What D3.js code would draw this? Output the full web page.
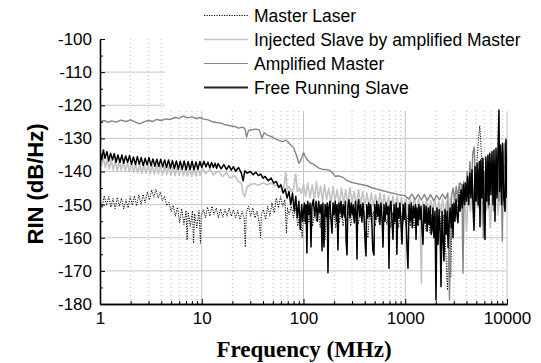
<!DOCTYPE html>
<html><head><meta charset="utf-8">
<script src="https://cdn.jsdelivr.net/npm/d3@7"></script>
<style>
html,body{margin:0;padding:0;background:#fff;}
svg{display:block;}
text{font-family:Arial,"Liberation Sans",Helvetica,sans-serif;}
</style></head>
<body><svg id="c" width="541" height="363"></svg>
<script>
const seriesNames = ["Master Laser","Injected Slave by amplified Master","Amplified Master","Free Running Slave"];
const yMajor = [-100,-110,-120,-130,-140,-150,-160,-170,-180];
const yMinor = [-105,-115,-125,-135,-145,-155,-165,-175];
const yGrid = [-110,-120,-130,-140,-150,-160,-170];
const xMajor = [1,10,100,1000,10000];
const xMinor = [2,3,4,5,6,7,8,9,20,30,40,50,60,70,80,90,200,300,400,500,600,700,800,900,2000,3000,4000,5000,6000,7000,8000,9000];
const xLabels = ["1","10","100","1000","10000"];

const masterLaser = [[1,-148.2],[1.05,-151.0],[1.1,-147.3],[1.16,-150.2],[1.22,-147.6],[1.28,-150.8],[1.34,-148.2],[1.41,-151.2],[1.48,-147.8],[1.55,-150.5],[1.63,-148.0],[1.71,-151.3],[1.8,-148.5],[1.89,-151.0],[1.98,-147.6],[2.08,-150.2],[2.18,-147.3],[2.29,-150.4],[2.41,-147.0],[2.53,-150.0],[2.65,-146.9],[2.78,-149.4],[2.92,-146.2],[3.07,-148.6],[3.22,-145.5],[3.38,-147.8],[3.55,-145.4],[3.73,-148.0],[3.91,-146.2],[4.11,-148.8],[4.31,-147.5],[4.53,-150.3],[4.75,-149.3],[4.99,-152.0],[5.24,-150.2],[5.5,-153.5],[5.77,-150.8],[6.06,-155.5],[6.36,-151.2],[6.68,-156],[7.01,-151.8],[7.18,-160.7],[7.36,-152.3],[7.73,-156.5],[8.12,-151.8],[8.3,-161.7],[8.52,-152.8],[8.95,-157],[9.4,-151.8],[9.7,-161.7],[9.87,-153.5],[10.4,-151.5],[10.9,-154],[11.4,-150.7],[12,-153.5],[12.6,-150.5],[13.2,-153],[13.9,-151],[14.6,-154],[15.3,-151.3],[16.1,-153.8],[16.9,-151.5],[17.7,-153.5],[18.6,-151],[19.5,-153.5],[20.5,-151.5],[21.5,-154],[22.6,-151.8],[23.7,-154.5],[24.9,-152],[26.1,-154],[26.8,-162.8],[27.4,-152.5],[28.8,-150.5],[30.2,-153.5],[31.7,-151],[33.3,-154],[35,-152],[36.7,-155.5],[37.9,-160],[38.5,-153],[40.4,-151.5],[42.4,-154.5],[44.5,-150.5],[46.7,-153.5],[49,-149.5],[51.5,-152.5],[54,-148],[56.7,-151],[59.5,-147.6],[62.5,-150.5],[65.6,-148.5],[68,-158.6],[69.5,-151],[72.3,-153],[75.9,-150.5],[79.7,-154],[83.7,-151],[87.9,-156.5],[92.3,-152],[96.9,-160],[100,-153],[104,-156],[108,-152],[113,-155.5],[118,-151.5],[123,-156.5],[128,-152.5],[134,-155],[140,-151.5],[146,-157],[152,-152],[157,-155.5],[162.6,-160.7],[168,-153],[175,-156],[182,-151.6],[190,-155.5],[198,-152],[207,-157],[216,-152.5],[225,-155.5],[235,-151.8],[245,-156.5],[256,-152.5],[267,-155],[279,-152],[291,-156.5],[304,-152.5],[317,-155.5],[331,-151.8],[345,-156],[360,-152.5],[376,-155.5],[392,-152],[410,-156.5],[430,-160],[445,-152.5],[465,-155.5],[485,-152],[507,-156.5],[530,-152.5],[553,-155.5],[578,-152],[604,-157],[631,-152.5],[660,-156],[690,-152],[720,-157],[752,-152.5],[786,-156],[822,-152.5],[860,-157],[900,-152],[940,-156.5],[980,-152.5],[1025,-157],[1070,-152.5],[1120,-156.5],[1170,-152.5],[1220,-157],[1280,-152.5],[1340,-156.5],[1400,-152.5],[1460,-157.5],[1530,-153],[1600,-158],[1670,-153],[1750,-158.5],[1830,-153],[1910,-159],[2000,-153.5],[2090,-160],[2190,-153.5],[2290,-162],[2400,-153],[2510,-165],[2600,-175.8],[2700,-155],[2800,-172],[2900,-151],[3030,-155],[3170,-148],[3300,-152],[3440,-144.6],[3600,-150],[3760,-143],[3930,-148],[4100,-141],[4300,-147],[4500,-142],[4650,-150],[4850,-140],[5050,-138],[5250,-130],[5400,-126.2],[5550,-132],[5700,-141],[5900,-145],[6100,-148.6],[6350,-140],[6600,-137],[6850,-146],[7100,-140],[7400,-147],[7700,-139],[8000,-136],[8300,-145],[8600,-140],[8900,-134],[9200,-143],[9500,-138],[9800,-144],[10000,-134]];

const injectedSlave = [[1,-135.6],[1.04,-138.2],[1.08,-135.8],[1.13,-138.8],[1.18,-136.2],[1.23,-139.2],[1.29,-136.6],[1.35,-139.5],[1.41,-136.8],[1.48,-139.8],[1.55,-137.0],[1.62,-139.6],[1.7,-136.9],[1.78,-140.0],[1.86,-137.2],[1.95,-140.1],[2.04,-137.5],[2.14,-140.3],[2.24,-137.6],[2.35,-140.4],[2.46,-137.8],[2.58,-140.6],[2.7,-137.9],[2.83,-140.5],[2.97,-138.0],[3.11,-140.7],[3.26,-138.1],[3.42,-140.8],[3.58,-138.2],[3.75,-140.7],[3.93,-138.3],[4.12,-141.0],[4.32,-138.3],[4.53,-140.9],[4.75,-138.4],[4.98,-141.1],[5.22,-138.5],[5.47,-141.2],[5.73,-138.6],[6.01,-141.2],[6.3,-138.6],[6.6,-141.3],[6.92,-138.7],[7.25,-141.4],[7.6,-138.8],[7.97,-141.5],[8.35,-138.9],[8.75,-141.4],[9.17,-138.8],[9.61,-141.2],[10.1,-139.0],[11,-140.6],[12,-139.3],[13,-141.0],[14.5,-139.8],[16,-141.5],[17.5,-140.3],[19,-142.0],[21,-141.3],[23,-143.0],[24.5,-143.5],[25.5,-146.6],[26.5,-147.6],[28,-144.6],[30,-144],[33,-143.6],[36,-144.2],[40,-143.4],[44,-144],[48,-143.5],[52,-144.3],[56,-144],[60,-144.8],[64,-145],[67,-140],[69,-145.5],[72,-144.5],[76,-146],[80,-145.2],[84,-140.8],[87,-146],[91,-145],[95,-146.6],[100,-144],[105,-147.5],[110,-143.5],[116,-148],[122,-144],[128,-148.5],[134,-143],[140,-148],[147,-144.5],[154,-149],[161,-144],[169,-148.5],[177,-145],[186,-149.5],[195,-144.5],[204,-149],[214,-145.5],[225,-150],[236,-145],[248,-149.5],[260,-145.5],[273,-150],[286,-145],[300,-149.5],[315,-146],[331,-150.5],[347,-145.5],[364,-150],[382,-146],[401,-150.5],[421,-146.5],[442,-151],[464,-146.5],[487,-150.5],[511,-147],[537,-151],[564,-146.5],[592,-151.5],[621,-147],[652,-151],[685,-147.5],[719,-152],[755,-147.5],[793,-151.5],[832,-147.5],[874,-152],[917,-147.8],[963,-151.5],[1011,-147.8],[1062,-152],[1115,-148],[1170,-151.5],[1229,-148],[1290,-152],[1355,-148.2],[1400,-152.5],[1440,-173.7],[1480,-149],[1550,-152],[1620,-148.5],[1700,-152.5],[1780,-148.8],[1860,-152],[1950,-148.5],[2040,-153],[2130,-149],[2230,-152.5],[2330,-148.5],[2440,-153],[2550,-149],[2670,-155],[2790,-148],[2920,-152],[3050,-147],[3190,-151],[3340,-145],[3490,-143.5],[3650,-149],[3820,-145],[4000,-158],[4180,-146],[4370,-152],[4570,-145],[4780,-155],[5000,-146],[5230,-151],[5470,-144.5],[5720,-156],[5980,-147],[6250,-152],[6540,-145],[6840,-157],[7150,-146],[7480,-151],[7820,-144],[8180,-153],[8550,-145.5],[8940,-150],[9350,-144],[9700,-152],[10000,-146]];

const amplifiedMaster = [[1,-125],[1.1,-124.6],[1.2,-125.2],[1.3,-124.7],[1.45,-125.1],[1.6,-124.5],[1.8,-124.9],[2,-124.4],[2.2,-125],[2.45,-125.6],[2.7,-125],[3,-124.6],[3.3,-124.9],[3.6,-124.3],[4,-124.6],[4.4,-124.1],[4.9,-124.3],[5.4,-123.7],[6,-123.9],[6.6,-123.3],[7.2,-123.8],[8,-123.5],[8.8,-124],[9.6,-123.7],[10.5,-124.2],[11.5,-124.4],[12.5,-124.9],[14,-125.2],[15.5,-125.4],[17,-125.9],[19,-126.2],[21,-126.4],[23,-126.9],[25,-126.6],[26.5,-127],[27.6,-129.6],[28.8,-127.6],[31,-127.4],[34,-127.2],[37,-127.5],[39,-130],[41,-128.3],[44,-129],[48,-129.4],[52,-130],[57,-130.6],[62,-131],[67,-130.5],[70,-131],[75,-132],[80,-132.8],[85,-135],[90,-137.5],[93,-137],[97,-135.5],[100,-134.3],[104,-135.5],[110,-136.6],[118,-137.5],[125,-137.7],[133,-138.4],[142,-139],[152,-139.3],[165,-139.4],[180,-139.6],[195,-140.5],[205,-141.5],[220,-141.3],[245,-141.8],[270,-142.8],[300,-143.3],[340,-143.7],[380,-144],[420,-144.3],[470,-144.9],[520,-145.3],[570,-145.6],[640,-146],[700,-146.4],[780,-146.6],[860,-147],[950,-147.2],[1000,-147.3],[1080,-148.3],[1160,-146.8],[1250,-148.5],[1340,-147],[1440,-148.6],[1540,-146.9],[1650,-148.7],[1770,-147],[1900,-148.8],[2030,-147.2],[2170,-148.5],[2320,-146.8],[2480,-148.3],[2620,-146.5],[2720,-178.8],[2850,-147.5],[2950,-145],[3060,-148.5],[3170,-144.5],[3280,-149],[3400,-143.5],[3600,-144],[3695,-170.7],[3800,-143.5],[3920,-150],[4050,-140],[4180,-148],[4320,-137],[4460,-146],[4610,-134.5],[4760,-132.6],[4900,-145],[5050,-139],[5200,-150.5],[5360,-138],[5520,-147],[5680,-136.5],[5850,-160],[6000,-140],[6180,-149],[6360,-137],[6550,-151],[6750,-136],[6950,-146],[7150,-139],[7370,-152],[7590,-136.5],[7800,-145],[8050,-135],[8300,-149],[8550,-134],[8800,-146],[9000,-161],[9200,-137],[9450,-131.5],[9650,-148],[9850,-130],[10000,-145]];

const freeRunningSlave = [[1,-134.0],[1.04,-136.5],[1.08,-133.5],[1.12,-136.0],[1.17,-134.0],[1.22,-136.8],[1.27,-134.5],[1.33,-136.5],[1.38,-134.6],[1.44,-137.2],[1.5,-135.0],[1.57,-137.3],[1.64,-135.0],[1.71,-137.5],[1.79,-135.3],[1.87,-137.2],[1.95,-135.2],[2.04,-137.8],[2.13,-135.6],[2.23,-137.9],[2.33,-135.5],[2.43,-137.8],[2.54,-135.8],[2.66,-138.2],[2.78,-136.0],[2.9,-138.0],[3.03,-135.8],[3.17,-138.3],[3.31,-136.2],[3.46,-138.4],[3.62,-136.3],[3.78,-138.5],[3.95,-136.3],[4.13,-138.6],[4.32,-136.5],[4.51,-138.8],[4.72,-136.5],[4.93,-139.0],[5.15,-136.7],[5.39,-139.1],[5.63,-136.8],[5.89,-139.3],[6.15,-136.9],[6.43,-139.3],[6.72,-136.8],[7.03,-139.5],[7.35,-137.0],[7.68,-139.4],[8.03,-136.9],[8.39,-139.5],[8.77,-137.1],[9.17,-139.3],[9.59,-137.0],[10,-138.8],[10.5,-136.9],[11,-138.6],[11.5,-137.2],[12,-138.9],[12.5,-137.3],[13,-138.8],[13.5,-137.5],[14,-139.0],[14.5,-137.6],[15.5,-139.2],[16.5,-137.9],[17.5,-139.4],[18.5,-138.2],[19.5,-139.6],[20.5,-138.5],[21.5,-139.9],[23,-138.8],[24.5,-140.5],[25.5,-142.8],[26.5,-139.8],[28,-140.5],[30,-140],[32,-141],[34,-140.2],[36,-141.2],[38,-140.8],[40,-142],[42,-141.5],[45,-142.8],[48,-142],[51,-143.5],[54,-143],[57,-144.8],[60,-144],[63,-146.5],[66,-145.3],[69,-148],[72,-146],[75,-150],[78,-146.5],[81,-152],[84,-147.5],[87,-154],[90,-149],[93,-157.5],[96,-150],[98,-155],[100,-152],[102,-149.5],[104,-155],[106,-150],[108,-164.6],[110,-149],[113,-153],[116,-149.5],[118.5,-162.8],[121,-150.5],[125,-148.5],[129,-153.5],[133,-149],[137,-155],[141,-149],[145,-152.5],[149,-150],[152,-163.9],[155,-149.5],[159,-162.8],[163,-150],[167,-153.5],[171,-149.5],[174,-170.6],[177,-151],[182,-149],[186,-154.5],[190.6,-158.6],[195,-149.5],[200,-153],[205,-149],[210,-155],[214,-150],[218,-163.7],[223,-149.5],[228,-152.5],[234,-149],[240,-154],[246,-150],[252,-153.5],[258,-149],[262,-160.5],[267.6,-165.2],[273,-150.5],[280,-148.5],[287,-154],[294,-149.5],[301,-153],[308,-150],[316,-155.5],[324,-149],[330,-153],[335.6,-166.4],[341,-150.5],[349,-148.5],[357,-153.5],[366,-150],[375,-155],[384,-149.5],[393,-153],[404,-162],[411.6,-165.5],[418,-150],[428,-154],[438,-149.5],[448,-153.5],[458,-150],[469,-155],[480,-163.7],[493,-165.2],[500,-150],[512,-154.5],[524,-149],[537,-153.5],[550,-150],[563,-156],[577,-149.5],[591,-154],[604.5,-162.8],[618,-150],[633,-155],[648,-149.5],[664,-153],[680,-150.5],[692,-169.2],[705,-151],[722,-149],[740,-154.5],[758,-160.5],[776,-150],[795,-155],[815,-149.5],[827,-165],[845,-151],[866,-154],[887,-149.5],[908,-156],[929,-161.9],[952,-150],[975,-154.5],[998,-149.5],[1022,-155.5],[1040,-163],[1064,-169.2],[1090,-150],[1117,-155],[1144,-149.5],[1172,-157],[1200,-150.5],[1229,-154],[1258,-150],[1276,-160.5],[1300,-151],[1330,-156],[1362,-150],[1395,-154.5],[1428,-150.5],[1462,-157.5],[1494,-162],[1530,-150],[1567,-155.5],[1605,-150.5],[1643,-158],[1682,-151],[1722,-156],[1763,-150.5],[1800,-159],[1832,-158],[1870,-151],[1915,-160],[1960,-152],[2005,-178.8],[2050,-151],[2100,-162],[2150,-151.5],[2200,-158],[2246,-174.8],[2300,-152],[2350,-160],[2404,-167],[2460,-151.5],[2520,-159],[2580,-152],[2640,-163],[2692,-156],[2760,-151],[2830,-157],[2900,-150],[2946,-160],[3010,-149.5],[3080,-155],[3150,-148.5],[3220,-153],[3299,-155.5],[3380,-147],[3460,-152],[3540,-145.5],[3630,-151],[3720,-144],[3810,-150],[3900,-143.5],[4000,-149],[4100,-141.6],[4200,-150],[4313,-140.5],[4420,-148],[4530,-139.5],[4640,-151],[4740,-157.7],[4850,-138.5],[4970,-149],[5090,-137.6],[5220,-150],[5340,-137],[5427,-156.7],[5540,-136.5],[5670,-148],[5800,-136],[5940,-152],[6077,-160.5],[6200,-135.6],[6350,-149],[6500,-135],[6650,-150],[6780,-134.5],[6950,-147],[7120,-134],[7300,-150],[7450,-133.5],[7621,-155],[7800,-133],[7980,-148],[8150,-134],[8344,-121.4],[8450,-146],[8650,-132],[8850,-150],[9050,-131.5],[9300,-148],[9550,-152],[9750,-130.5],[10000,-148]];

const svg = d3.select("#c");
const L = 100, R = 507, T = 39, B = 304;
const x = d3.scaleLog().domain([1, 10000]).range([L, R]);
const y = d3.scaleLinear().domain([-180, -100]).range([B, T]);

// grid
const grid = svg.append("g");
grid.selectAll(".hg").data(yGrid).join("line")
  .attr("x1", L).attr("x2", R).attr("y1", d => y(d)).attr("y2", d => y(d))
  .attr("stroke", "#c8c8c8").attr("stroke-width", 1);
grid.selectAll(".vm").data(xMinor).join("line")
  .attr("x1", d => x(d)).attr("x2", d => x(d)).attr("y1", T).attr("y2", B)
  .attr("stroke", "#bdbdbd").attr("stroke-width", 1).attr("stroke-dasharray", "1,3");
grid.selectAll(".vM").data(xMajor.slice(1)).join("line")
  .attr("x1", d => x(d)).attr("x2", d => x(d)).attr("y1", T).attr("y2", B)
  .attr("stroke", "#c4c4c4").attr("stroke-width", 1);

// legend background masks grid
svg.append("rect").attr("x", 165).attr("y", 0).attr("width", 376).attr("height", 111).attr("fill", "#fff");

// data
svg.append("clipPath").attr("id", "clip").append("rect")
  .attr("x", L).attr("y", T - 2).attr("width", R - L).attr("height", B - T + 2);
const line = d3.line().x(d => x(d[0])).y(d => y(d[1]));
const styles = [
  {data: masterLaser, color: "#000", w: 1, dash: "1.2,1.3"},
  {data: injectedSlave, color: "#c2c2c2", w: 1.6, dash: null},
  {data: amplifiedMaster, color: "#858585", w: 1.4, dash: null},
  {data: freeRunningSlave, color: "#000", w: 1.5, dash: null}
];
const plot = svg.append("g").attr("clip-path", "url(#clip)");
styles.forEach(s => {
  plot.append("path").datum(s.data).attr("d", line)
    .attr("fill", "none").attr("stroke", s.color).attr("stroke-width", s.w)
    .attr("stroke-linejoin", "round")
    .attr("stroke-dasharray", s.dash);
});

// axes
svg.append("g").attr("transform", `translate(${L},0)`)
  .call(d3.axisLeft(y).tickValues(yMajor).tickSize(-5).tickSizeOuter(0).tickPadding(8).tickFormat(d => String(d)));
svg.append("g").attr("transform", `translate(${L},0)`)
  .call(d3.axisLeft(y).tickValues(yMinor).tickSize(-3).tickSizeOuter(0).tickFormat(""));
svg.append("g").attr("transform", `translate(0,${B})`)
  .call(d3.axisBottom(x).tickValues(xMajor).tickSize(-5).tickSizeOuter(0).tickPadding(8).tickFormat((d, i) => xLabels[i]));
svg.append("g").attr("transform", `translate(0,${B})`)
  .call(d3.axisBottom(x).tickValues(xMinor).tickSize(-3).tickSizeOuter(0).tickFormat(""));
svg.selectAll(".domain").attr("stroke", "#000").attr("stroke-width", 1.3);
svg.selectAll(".tick line").attr("stroke", "#000");
svg.selectAll(".tick text").attr("font-size", 17).attr("font-family", "Arial, 'Liberation Sans', sans-serif").attr("fill", "#000");

// titles
svg.append("text").attr("transform", "translate(43,184) rotate(-90)")
  .attr("text-anchor", "middle").attr("font-size", 22).attr("font-weight", "bold")
  .text("RIN (dB/Hz)");
svg.append("text").attr("x", 304).attr("y", 357)
  .attr("text-anchor", "middle").attr("font-size", 23).attr("font-weight", "bold")
  .style("font-family", "'Liberation Serif','Times New Roman',serif")
  .text("Frequency (MHz)");

// legend
const leg = svg.append("g");
const legStyles = [
  {color: "#000", w: 1, dash: "1.2,1.3"},
  {color: "#c2c2c2", w: 1.6, dash: null},
  {color: "#858585", w: 1.2, dash: null},
  {color: "#222", w: 1.8, dash: null}
];
seriesNames.forEach((name, i) => {
  const cy = 15.5 + i * 24;
  leg.append("line").attr("x1", 204).attr("x2", 248).attr("y1", cy).attr("y2", cy)
    .attr("stroke", legStyles[i].color).attr("stroke-width", legStyles[i].w)
    .attr("stroke-dasharray", legStyles[i].dash);
  leg.append("text").attr("x", 254).attr("y", cy + 6).attr("font-size", 17.5).text(name);
});
</script></body></html>
